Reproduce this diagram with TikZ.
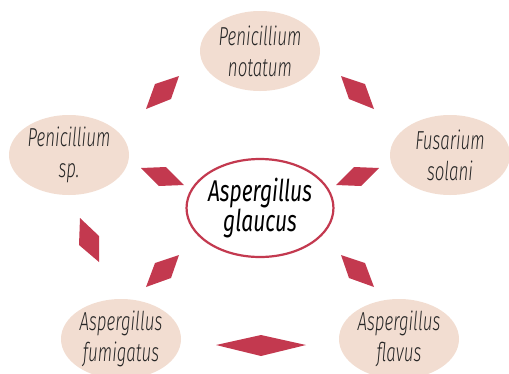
\documentclass[tikz,border=0pt]{standalone}
\usepackage{fontspec}
\setmainfont{Fira Sans Light}[FakeStretch=0.65]
\newfontfamily\centerfont{Fira Sans}[FakeStretch=0.7]
\usetikzlibrary{shapes.geometric}
\definecolor{petal}{HTML}{F2DDD1}
\definecolor{crim}{HTML}{C3394F}
\tikzset{
  outer/.style={ellipse, fill=petal, minimum width=120pt, minimum height=80pt, inner sep=0pt,
    align=center, font=\fontsize{26}{31}\selectfont\itshape, text=black!85},
  center/.style={ellipse, draw=crim, line width=2.2pt, fill=white, minimum width=145pt,
    minimum height=98pt, inner sep=0pt, align=center, font=\centerfont\fontsize{30}{30}\selectfont\itshape},
  rhomb/.style={fill=crim}
}
\begin{document}
\begin{tikzpicture}[x=1pt,y=-1pt]
\useasboundingbox (0,0) rectangle (509,373);
\clip (0,0) rectangle (509,373);
\node[outer] (pn) at (260,51) {Penicillium\\notatum};
\node[outer] (ps) at (69,155) {Penicillium\\sp.};
\node[outer] (fs) at (450,155) {Fusarium\\solani};
\node[outer] (af) at (121,339) {Aspergillus\\fumigatus};
\node[outer] (afl) at (399,339) {Aspergillus\\flavus};
\node[center] (ag) at (260,208) {Aspergillus\\glaucus};
\fill[rhomb] (179,76) -- (171,99) -- (146,109) -- (155,84) -- cycle;
\fill[rhomb] (341,76) -- (349,99) -- (374,109) -- (365,84) -- cycle;
\fill[rhomb] (141,168) -- (166,167) -- (184,185) -- (159,186) -- cycle;
\fill[rhomb] (379,168) -- (354,167) -- (336,185) -- (361,186) -- cycle;
\fill[rhomb] (80,218) -- (99,236) -- (99,262) -- (79,245) -- cycle;
\fill[rhomb] (179,255) -- (171,278) -- (146,287) -- (155,263) -- cycle;
\fill[rhomb] (341,255) -- (349,278) -- (374,287) -- (365,263) -- cycle;
\fill[rhomb] (216,345) -- (261,335) -- (306,345) -- (261,356) -- cycle;
\end{tikzpicture}
\end{document}
